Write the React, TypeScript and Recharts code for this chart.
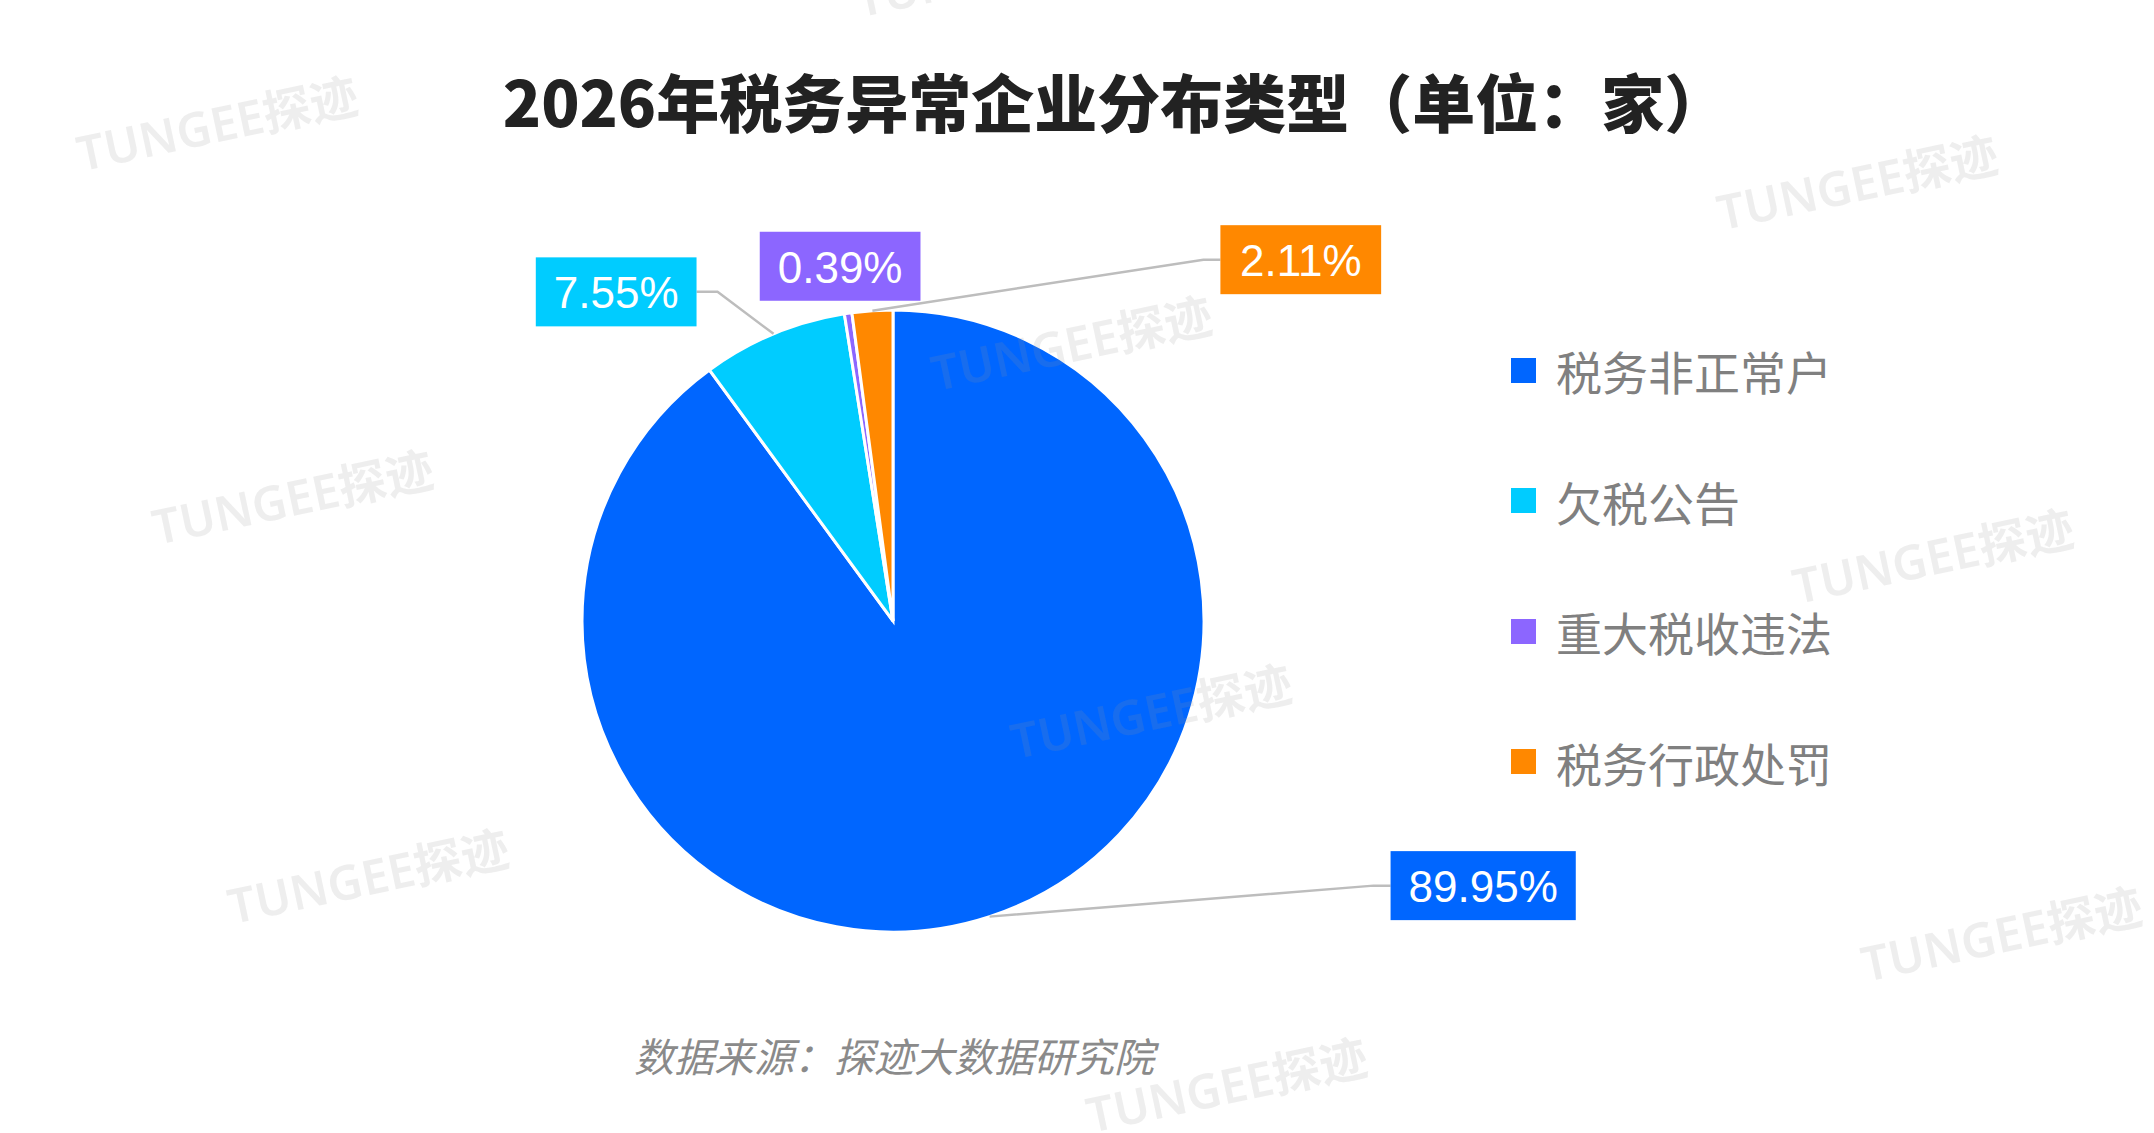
import React from 'react';
import { PieChart, Pie, Cell, Legend } from 'recharts';

// 2026 tax-anomaly enterprise breakdown (share, %)
const categories = ['税务非正常户', '欠税公告', '重大税收违法', '税务行政处罚'];
const shares = [89.95, 7.55, 0.39, 2.11];
const colors = ['#0066FF', '#00CCFF', '#8C66FF', '#FF8800'];

const data = categories.map((name, i) => ({ name, value: shares[i] }));

// where each label sits, relative to the point on the rim at the slice's mid angle
const labelLayout = [
  { dx: 384, dy: -31, anchor: 'start' },
  { dx: -56, dy: -42, anchor: 'end' },
  { dx: -8, dy: -47, anchor: 'middle' },
  { dx: 331, dy: -51, anchor: 'start' },
];

const RADIAN = Math.PI / 180;
const LABEL_FONT = 44;
const BOX_H = 69;
const CHAR_W: Record<string, number> = { '.': 0.278, '%': 0.889 };
const textWidth = (s: string) =>
  s.split('').reduce((w, c) => w + (CHAR_W[c] ?? 0.556), 0) * LABEL_FONT;

const renderLabel = (props: any) => {
  const { cx, cy, midAngle, outerRadius, value, index } = props;
  const layout = labelLayout[index];
  const text = `${Number(value).toFixed(2)}%`;
  const w = textWidth(text) + 36;
  const sx = cx + outerRadius * Math.cos(-midAngle * RADIAN);
  const sy = cy + outerRadius * Math.sin(-midAngle * RADIAN);
  const ex = sx + layout.dx;
  const ey = sy + layout.dy;
  let boxX: number;
  let linePts = '';
  if (layout.anchor === 'start') {
    boxX = ex + 17;
    linePts = `${sx},${sy} ${ex},${ey} ${boxX},${ey}`;
  } else if (layout.anchor === 'end') {
    boxX = ex - 21 - w;
    linePts = `${sx},${sy} ${ex},${ey} ${boxX + w},${ey}`;
  } else {
    boxX = ex - w / 2;
  }
  return (
    <g key={`label-${index}`}>
      {linePts && (
        <polyline points={linePts} fill="none" stroke="#BDBDBD" strokeWidth={2.5} />
      )}
      <rect x={boxX} y={ey - BOX_H / 2} width={w} height={BOX_H} fill={colors[index]} />
      <text
        x={boxX + w / 2}
        y={ey + 1}
        textAnchor="middle"
        dominantBaseline="central"
        fill="#FFFFFF"
        fontSize={LABEL_FONT}
        fontFamily="'Liberation Sans', Arial, sans-serif"
      >
        {text}
      </text>
    </g>
  );
};

// legend keeps the data order rather than the library's sorted payload
const renderLegend = () => (
  <div>
    {categories.map((name, i) => (
      <div key={`legend-${i}`} style={{ height: 130.5, display: 'flex', alignItems: 'center' }}>
        <span style={{ width: 25, height: 25, background: colors[i], display: 'inline-block', marginRight: 20 }} />
        <span style={{ fontSize: 46, color: '#808080', fontFamily: "'Noto Sans CJK SC', sans-serif" }}>
          {name}
        </span>
      </div>
    ))}
  </div>
);

// faint brand watermark tiles
const watermarks = [
  [158, 90], [213, 362], [268, 638],
  [725, -22], [780, 250], [838, 518], [893, 790],
  [1352, 133], [1407, 405], [1457, 680],
];

const App: React.FC = () => {
  const s = 2154 / 1568;
  return (
    <div style={{ position: 'absolute', left: 0, top: 0, width: 2154, height: 1133, background: '#FFFFFF', overflow: 'hidden' }}>
      <div
        style={{
          position: 'absolute',
          left: 1115,
          top: 99,
          transform: 'translate(-50%, -50%)',
          whiteSpace: 'nowrap',
          fontSize: 63,
          fontWeight: 900,
          color: '#222222',
          fontFamily: "'Noto Sans CJK SC', sans-serif",
        }}
      >
        2026年税务异常企业分布类型（单位：家）
      </div>
      <PieChart
        width={2154}
        height={1133}
        margin={{ top: 0, right: 0, bottom: 0, left: 0 }}
        style={{ position: 'absolute', left: 0, top: 0 }}
      >
        <Pie
          data={data}
          dataKey="value"
          nameKey="name"
          cx={893}
          cy={621}
          outerRadius={311}
          startAngle={90}
          endAngle={-270}
          stroke="#FFFFFF"
          strokeWidth={3}
          label={renderLabel}
          labelLine={false}
          isAnimationActive={false}
        >
          {data.map((d, i) => (
            <Cell key={d.name} fill={colors[i]} />
          ))}
        </Pie>
        <Legend
          layout="vertical"
          align="right"
          verticalAlign="top"
          content={renderLegend}
          wrapperStyle={{ left: 1511, top: 305, width: 500 }}
        />
      </PieChart>
      <div
        style={{
          position: 'absolute',
          left: 894,
          top: 1055,
          transform: 'translate(-50%, -50%)',
          whiteSpace: 'nowrap',
          fontSize: 40,
          fontStyle: 'italic',
          color: '#8A8A8A',
          fontFamily: "'Noto Sans CJK SC', sans-serif",
        }}
      >
        数据来源：探迹大数据研究院
      </div>
      <svg width={2154} height={1133} style={{ position: 'absolute', left: 0, top: 0, pointerEvents: 'none' }}>
        {watermarks.map(([x, y], i) => (
          <text
            key={`wm-${i}`}
            x={x * s}
            y={y * s}
            textAnchor="middle"
            dominantBaseline="central"
            transform={`rotate(-12 ${x * s} ${y * s})`}
            fontSize={48}
            fontWeight={600}
            fill="rgba(150,150,150,0.16)"
            fontFamily="'Noto Sans', 'Noto Sans CJK SC', sans-serif"
          >
            TUNGEE探迹
          </text>
        ))}
      </svg>
    </div>
  );
};

export default App;
